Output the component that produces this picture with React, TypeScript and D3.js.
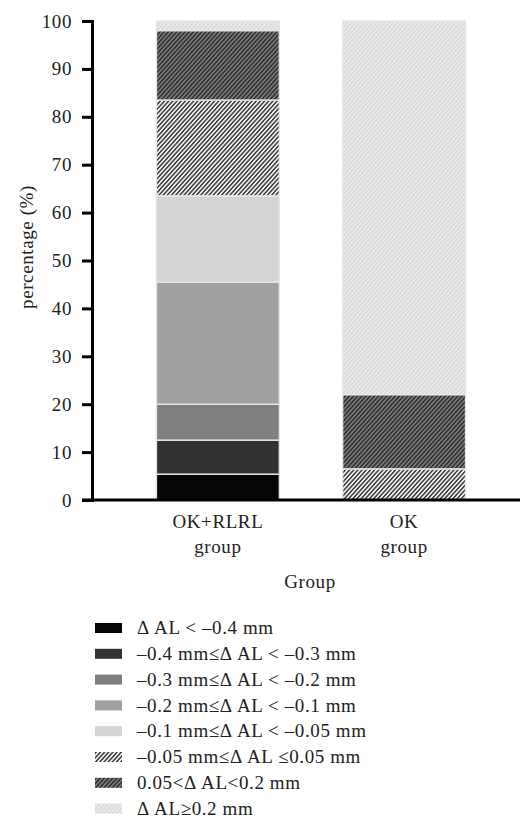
import React, { useEffect, useRef } from "react";
import * as d3 from "d3";

// groups on the x axis (each label is split over two lines)
const groupNames = ["OK+RLRL group", "OK group"];
const groupLines = [["OK+RLRL", "group"], ["OK", "group"]];

// legend categories, bottom of the stack first
const categories = [
  "Δ AL < –0.4 mm",
  "–0.4 mm≤Δ AL < –0.3 mm",
  "–0.3 mm≤Δ AL < –0.2 mm",
  "–0.2 mm≤Δ AL < –0.1 mm",
  "–0.1 mm≤Δ AL < –0.05 mm",
  "–0.05 mm≤Δ AL ≤0.05 mm",
  "0.05<Δ AL<0.2 mm",
  "Δ AL≥0.2 mm",
];

// percentages per category
const okRlrlValues = [5.4, 7.1, 7.5, 25.5, 18, 20, 14.5, 2];
const okValues = [0, 0, 0, 0, 0, 6.5, 15.5, 78];

const yTicks = [0, 10, 20, 30, 40, 50, 60, 70, 80, 90, 100];

const fills = [
  "#060606",
  "#323232",
  "#7f7f7f",
  "#a0a0a3",
  "#d4d4d4",
  "url(#hatchWhite)",
  "url(#hatchDark)",
  "url(#hatchLight)",
];

const font = "'Liberation Serif', 'Times New Roman', serif";
const spacing = 0.6;

export default function App() {
  const yAxisRef = useRef<SVGGElement>(null);
  const width = 520;
  const height = 820;
  const margin = { top: 21, left: 92, bottom: 500 };

  const x = d3
    .scaleBand()
    .domain(groupNames)
    .range([margin.left, 530])
    .paddingInner(0.34)
    .paddingOuter(0.346);

  const y = d3.scaleLinear().domain([0, 100]).range([margin.bottom, margin.top]);

  const rows = groupNames.map((g, i) => {
    const row: any = { group: g };
    const vals = i === 0 ? okRlrlValues : okValues;
    categories.forEach((c, j) => (row[c] = vals[j]));
    return row;
  });
  const series = d3.stack().keys(categories)(rows);

  useEffect(() => {
    const yAxis = d3.select(yAxisRef.current);
    yAxis.call(
      d3.axisLeft(y).tickValues(yTicks).tickSize(10).tickSizeOuter(0).tickPadding(10) as any
    );
    yAxis.select(".domain").attr("stroke-width", 3).attr("stroke-linecap", "square");
    yAxis.selectAll(".tick line").attr("stroke-width", 3);
    yAxis
      .selectAll(".tick text")
      .attr("font-family", font)
      .attr("font-size", 19)
      .attr("letter-spacing", spacing)
      .attr("fill", "#222");
  }, []);

  return (
    <svg
      width={width}
      height={height}
      style={{ position: "absolute", left: 0, top: 0, background: "#fff" }}
    >
      <defs>
        <pattern id="hatchWhite" patternUnits="userSpaceOnUse" width="4" height="3.1" patternTransform="rotate(-48)">
          <rect width="4" height="3.1" fill="#f2f2f2" />
          <rect width="4" height="1.4" fill="#2e2e2e" />
        </pattern>
        <pattern id="hatchDark" patternUnits="userSpaceOnUse" width="4" height="3.1" patternTransform="rotate(-48)">
          <rect width="4" height="3.1" fill="#7a7a7a" />
          <rect width="4" height="1.4" fill="#2a2a2a" />
        </pattern>
        <pattern id="hatchLight" patternUnits="userSpaceOnUse" width="4" height="3.1" patternTransform="rotate(-48)">
          <rect width="4" height="3.1" fill="#eaeaea" />
          <rect width="4" height="1.3" fill="#d6d6d6" />
        </pattern>
      </defs>

      {/* stacked bars */}
      {series.map((s, i) => (
        <g key={s.key} fill={fills[i]}>
          {s.map((d, j) =>
            d[1] - d[0] > 0 ? (
              <rect
                key={j}
                x={x(groupNames[j])}
                y={y(d[1])}
                width={x.bandwidth()}
                height={y(d[0]) - y(d[1])}
                stroke="#e6e6e6"
                strokeWidth={1.4}
              />
            ) : null
          )}
        </g>
      ))}

      {/* x axis */}
      <line x1={82} x2={width} y1={y(0)} y2={y(0)} stroke="#000" strokeWidth={3} />
      {groupNames.map((g, i) => (
        <text
          key={g}
          x={(x(g) as number) + x.bandwidth() / 2}
          y={y(0) + 28}
          textAnchor="middle"
          fontFamily={font}
          fontSize={19}
          letterSpacing={spacing}
          fill="#222"
        >
          {groupLines[i].map((l, k) => (
            <tspan key={k} x={(x(g) as number) + x.bandwidth() / 2} dy={k === 0 ? 0 : 25}>
              {l}
            </tspan>
          ))}
        </text>
      ))}
      <text x={310} y={588} textAnchor="middle" fontFamily={font} fontSize={19} letterSpacing={spacing} fill="#222">
        Group
      </text>

      {/* y axis */}
      <g ref={yAxisRef} transform={`translate(${margin.left}, 0)`} />
      <text
        transform={`translate(33, 247) rotate(-90)`}
        textAnchor="middle"
        fontFamily={font}
        fontSize={19}
        letterSpacing={spacing}
        fill="#222"
      >
        percentage (%)
      </text>

      {/* legend */}
      {categories.map((c, i) => (
        <g key={c} transform={`translate(95, ${628 + i * 25.8})`}>
          <rect x={0} y={-5} width={27} height={10} fill={fills[i]} />
          <text
            x={42}
            y={0}
            dy="0.33em"
            fontFamily={font}
            fontSize={19}
            letterSpacing={spacing}
            fill="#222"
          >
            {c}
          </text>
        </g>
      ))}
    </svg>
  );
}
